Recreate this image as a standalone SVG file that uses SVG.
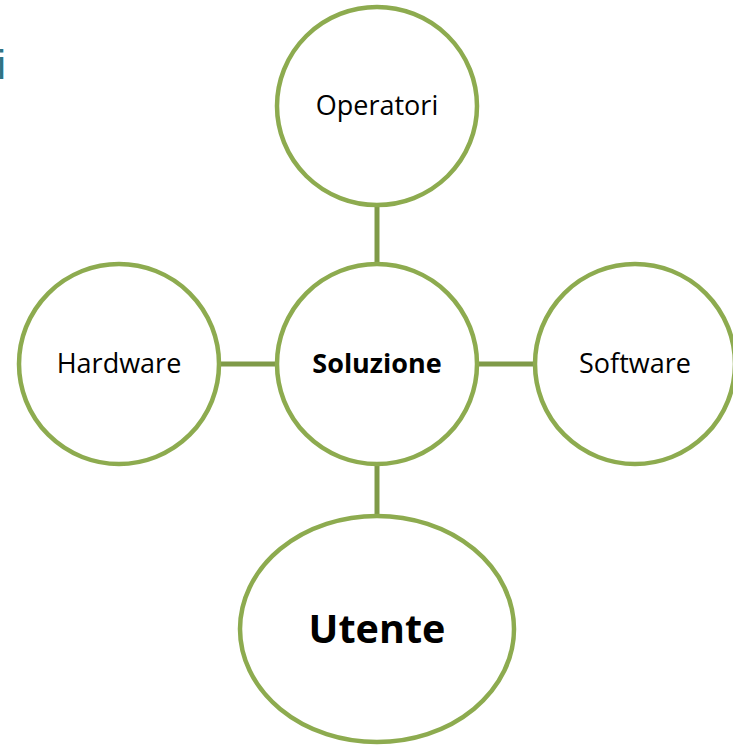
<svg xmlns="http://www.w3.org/2000/svg" width="733" height="745" viewBox="0 0 733 745">
<style>
.node{fill:#ffffff;stroke:#8DAB4F;stroke-width:4.5}
.conn{stroke:#7F9A48;stroke-width:5;fill:none}
.lbl{font-family:"Open Sans","Liberation Sans",sans-serif;font-size:27px;fill:#000;text-anchor:middle}
.b{font-weight:bold}
</style>
<rect width="733" height="745" fill="#ffffff"/>
<text x="-3" y="79" font-family="Liberation Sans, sans-serif" font-size="40" fill="#2F7384">i</text>
<g id="connectors">
<line class="conn" x1="377" y1="205" x2="377" y2="265"/>
<line class="conn" x1="377" y1="465" x2="377" y2="516"/>
<line class="conn" x1="219" y1="364" x2="278" y2="364"/>
<line class="conn" x1="476" y1="364" x2="536" y2="364"/>
</g>
<g id="operatori">
<ellipse class="node" cx="377" cy="106" rx="100" ry="99"/>
<text class="lbl" x="377" y="115">Operatori</text>
</g>
<g id="soluzione">
<ellipse class="node" cx="377" cy="364" rx="100" ry="100"/>
<text class="lbl b" x="377" y="373">Soluzione</text>
</g>
<g id="hardware">
<ellipse class="node" cx="119" cy="364" rx="100" ry="100"/>
<text class="lbl" x="119" y="373">Hardware</text>
</g>
<g id="software">
<ellipse class="node" cx="635" cy="364" rx="100" ry="100"/>
<text class="lbl" x="635" y="373">Software</text>
</g>
<g id="utente">
<ellipse class="node" cx="377" cy="629" rx="137" ry="113"/>
<text class="lbl b" x="377" y="643" style="font-size:39.5px">Utente</text>
</g>
</svg>
